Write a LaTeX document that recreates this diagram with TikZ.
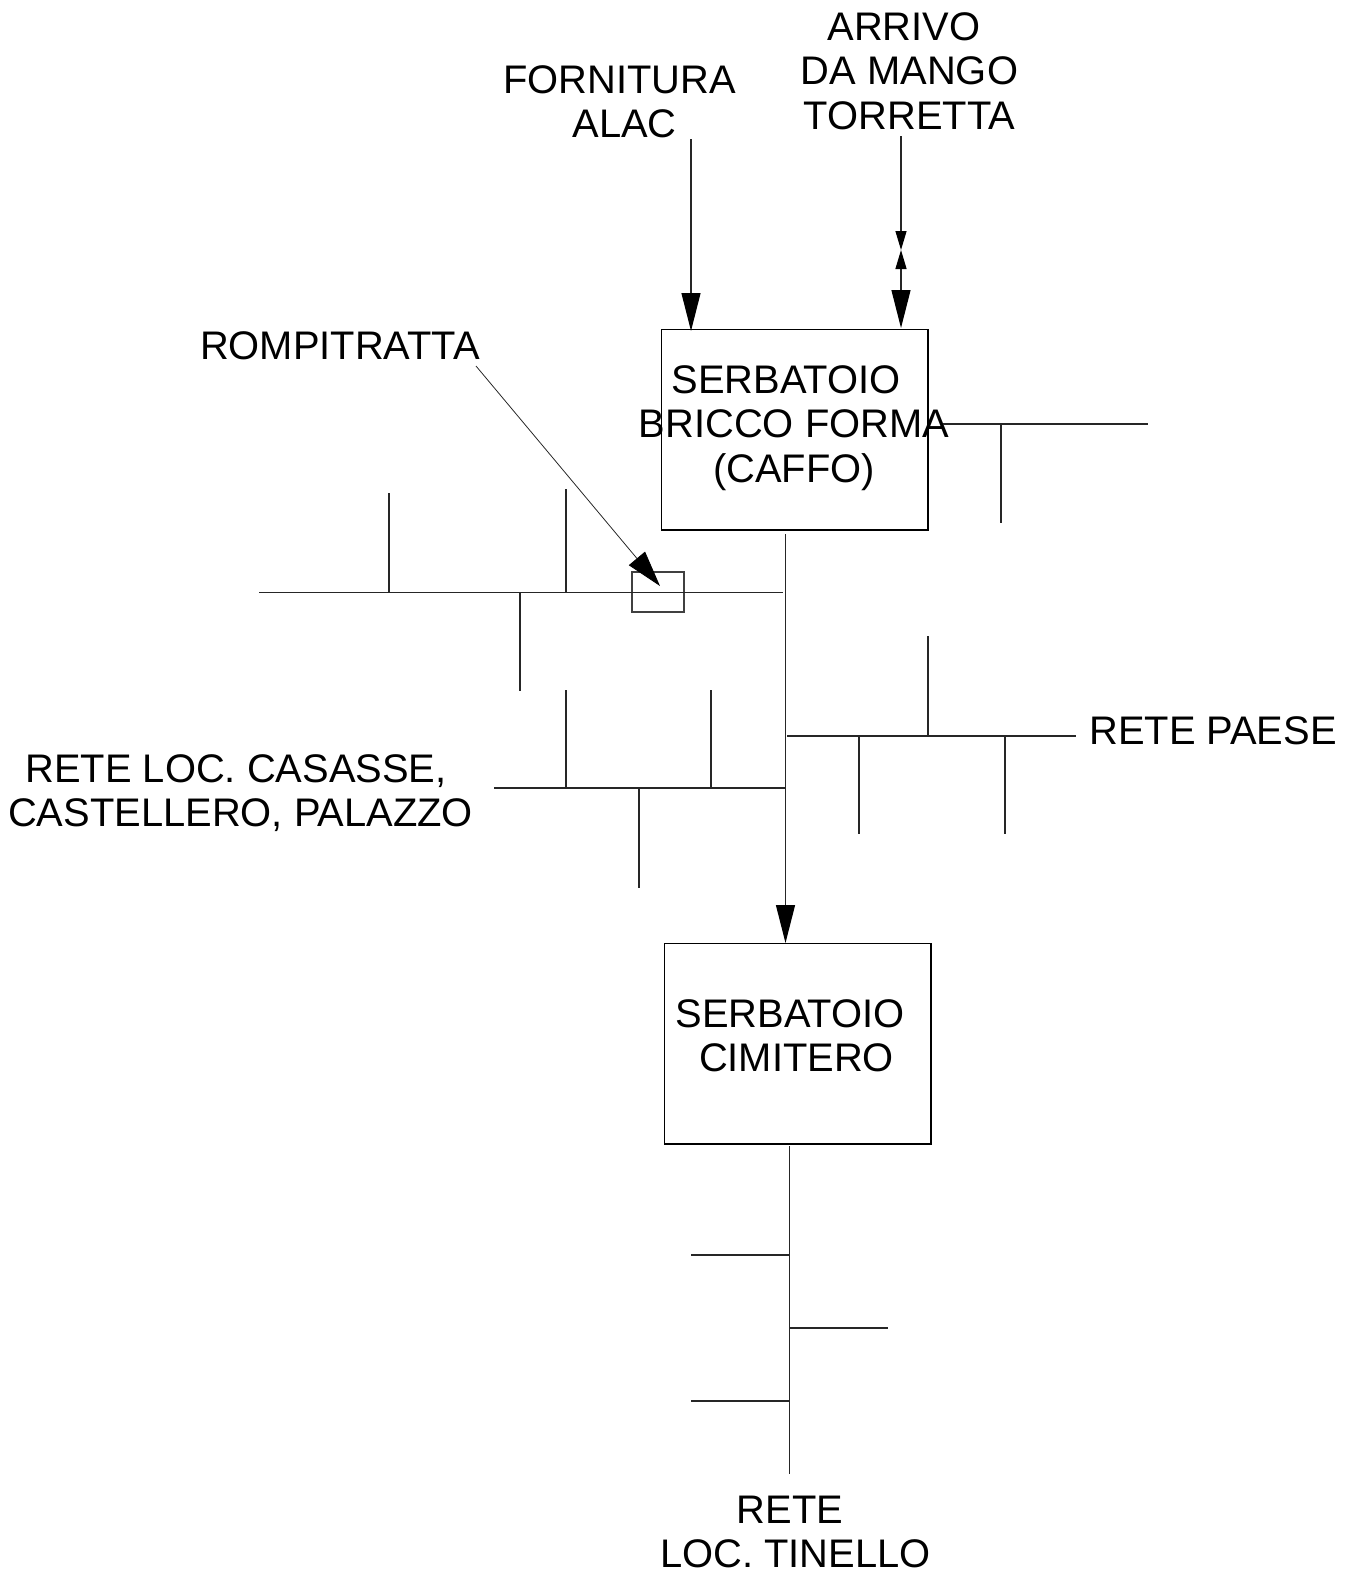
\documentclass[tikz,border=0pt]{standalone}
\usepackage{fontspec}
\setmainfont{Liberation Sans}
\usetikzlibrary{arrows.meta, positioning}

\begin{document}
\begin{tikzpicture}[
  x=0.02cm, y=-0.02cm,
  tank/.style={rectangle, draw=black, line width=0.6pt, inner sep=0pt, minimum width=5.34cm, minimum height=4.02cm},
  valve/.style={rectangle, draw=black!75, line width=0.7pt, inner sep=0pt, minimum width=1.04cm, minimum height=0.8cm},
  lab/.style={inner sep=0pt, align=center, font=\fontsize{22.7}{25.3}\selectfont},
  pipe/.style={draw=black!85, line width=0.7pt},
  arr/.style={pipe, -{Triangle[length=0.76cm, width=0.38cm, color=black]}},
  thinarr/.style={pipe, line width=0.45pt, -{Triangle[length=0.72cm, width=0.42cm, color=black]}},
  minitip/.style={-{Triangle[length=0.38cm, width=0.22cm, color=black]}}
]
  \useasboundingbox (0,0) rectangle (1357,1573);

  % tanks
  \node[tank] (T1) at (794.5,429.5) {};
  \node[tank] (T2) at (797.5,1043.5) {};
  \node[valve] (V) at (658,592) {};

  % labels
  \node[lab] (Lalac) at (624.5,102) {FORNITURA\hspace*{0.2cm}\\ALAC};
  \node[lab] (Lmango) at (909.5,71) {ARRIVO\hspace*{0.22cm}\\DA MANGO\\TORRETTA};
  \node[lab] (Lromp) at (340,346) {ROMPITRATTA};
  \node[lab] (Lcaffo) at (794,428) {SERBATOIO\hspace*{0.32cm}\\BRICCO FORMA\\(CAFFO)};
  \node[lab] (Lcim) at (790,1036) {SERBATOIO\\\hspace*{0.26cm}CIMITERO};
  \node[lab] (Lpaese) at (1213,731) {RETE PAESE};
  \node[lab] (Lcas) at (240.5,793) {RETE LOC. CASASSE,\hspace*{0.18cm}\\CASTELLERO, PALAZZO};
  \node[lab] (Ltin) at (795.5,1532) {RETE\hspace*{0.22cm}\\LOC. TINELLO};

  % feeds into the upper tank
  \coordinate (A0) at (691,139);
  \coordinate (A1) at (691,331);
  \coordinate (B0) at (901,136);
  \coordinate (B1) at (901,250);
  \coordinate (B2) at (901,328);
  \coordinate (R0) at (476,366);
  \coordinate (R1) at (660,586);
  \draw[arr] (A0) -- (A1);
  \draw[pipe, minitip] (B0) -- (B1);
  \draw[pipe, {Triangle[length=0.76cm, width=0.38cm, color=black]}-{Triangle[length=0.38cm, width=0.22cm, color=black]}] (B2) -- (B1);
  \draw[thinarr] (R0) -- (R1);

  % main line between the tanks
  \coordinate (M0) at (785.5,534);
  \coordinate (M1) at (785.5,943);
  \draw[arr] (M0) -- (M1);

  % stubs: name/x/y of the start/x/y of the end
  \foreach \n/\xa/\ya/\xb/\yb in {
    a/259/592.5/783/592.5, b/389/493/389/592.5, c/566/489/566/592.5, d/520/592.5/520/691,
    e/787/736/1076/736, f/928/636/928/736, g/859/736/859/834, h/1005/736/1005/834,
    i/494/788/785/788, j/566/690/566/788, k/711/690/711/788, l/639/788/639/888,
    m/943/424/1148/424, n/1001/424/1001/523,
    o/789.5/1146/789.5/1474, p/691/1255/789.5/1255, q/789.5/1328/888/1328, r/691/1401/789.5/1401}{
    \coordinate (S\n) at (\xa,\ya);
    \coordinate (E\n) at (\xb,\yb);
    \draw[pipe] (S\n) -- (E\n);
  }
\end{tikzpicture}
\end{document}
